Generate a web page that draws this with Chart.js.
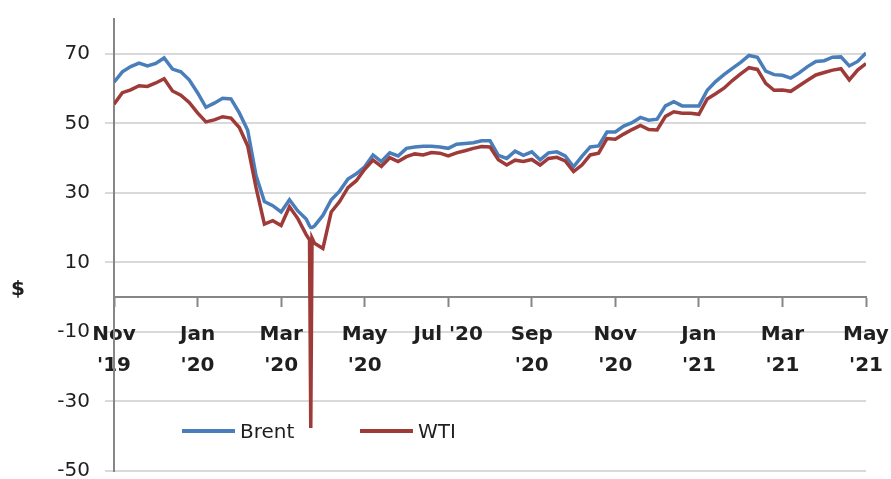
<!DOCTYPE html>
<html>
<head>
<meta charset="utf-8">
<script src="https://cdn.jsdelivr.net/npm/chart.js@4"></script>
<style>
  body { margin: 0; background: #fff; }
</style>
</head>
<body>
<canvas id="myChart" width="891" height="479"></canvas>
<script>
// x is a running index (about a week per step), ticks every 10 steps
const tickIdx = [0, 10, 20, 30, 40, 50, 60, 70, 80, 90];
const tickLabels = ["Nov\n'19", "Jan\n'20", "Mar\n'20", "May\n'20", "Jul '20", "Sep\n'20", "Nov\n'20", "Jan\n'21", "Mar\n'21", "May\n'21"];
const yTicks = [-50, -30, -10, 10, 30, 50, 70];

const steps = Array.from({length: 91}, (_, i) => i);
// extra points around 20 April 2020 (WTI below zero)
steps.splice(24, 0, 23.4, 23.55, 23.7);

const brent = [
  61.8, 64.8, 66.3, 67.3, 66.5, 67.2, 68.8, 65.6, 64.8, 62.5,
  58.8, 54.6, 55.8, 57.2, 57.0, 53.0, 48.0, 35.0, 27.5, 26.3,
  24.5, 28.0, 24.8, 22.5, 20.5, 20.0, 20.0, 20.5, 23.5, 28.0,
  30.5, 34.0, 35.5, 37.5, 40.9, 39.0, 41.5, 40.6, 42.8, 43.2,
  43.4, 43.4, 43.2, 42.8, 44.0, 44.2, 44.4, 45.0, 45.0, 40.8,
  39.9, 42.0, 40.8, 41.8, 39.5, 41.5, 41.8, 40.6, 37.5, 40.5,
  43.2, 43.5, 47.5, 47.5, 49.2, 50.2, 51.7, 50.9, 51.2, 55.0,
  56.2, 55.0, 55.0, 55.0, 59.5, 62.0, 64.0, 65.8, 67.5, 69.5,
  69.0, 65.0, 64.0, 63.8, 63.0, 64.5, 66.3, 67.8, 68.0, 69.0,
  69.1, 66.5, 67.8, 70.2
];
const wti = [
  55.5, 58.8, 59.6, 60.8, 60.6, 61.6, 62.8, 59.3, 58.1, 56.0,
  53.0, 50.4, 51.0, 51.9, 51.5, 48.8, 43.5, 31.5, 21.0, 22.0,
  20.6, 26.0, 22.6, 18.0, 16.5, -37.6, 17.0, 15.5, 14.0, 24.5,
  27.5, 31.5, 33.5, 36.8, 39.4, 37.6, 40.1, 39.0, 40.4, 41.2,
  40.9, 41.6, 41.4, 40.6, 41.5, 42.1, 42.8, 43.3, 43.2, 39.5,
  38.0, 39.4, 39.0, 39.6, 38.0, 39.9, 40.2, 39.2, 36.1, 38.0,
  40.9, 41.4, 45.6, 45.4, 46.9, 48.2, 49.4, 48.2, 48.1, 52.0,
  53.3, 52.9, 52.9, 52.6, 57.0, 58.5, 60.1, 62.3, 64.2, 66.0,
  65.5, 61.5, 59.5, 59.6, 59.2, 60.8, 62.4, 63.9, 64.6, 65.3,
  65.7, 62.5, 65.3, 67.2
];

const blue = '#4a7ebb';
const red = '#9e3b38';
const axisGrey = '#868686';
const gridGrey = '#d9d9d9';
const textCol = '#1f1f1f';

// "$" label and the legend inside the plot
const extras = {
  id: 'extras',
  afterDraw(chart) {
    const ctx = chart.ctx;
    ctx.save();
    ctx.fillStyle = textCol;
    ctx.font = 'bold 20px "DejaVu Sans"';
    ctx.textAlign = 'center';
    ctx.textBaseline = 'middle';
    ctx.fillText('$', 18, 290);

    const items = [
      {text: chart.data.datasets[0].label, color: chart.data.datasets[0].borderColor, x: 182},
      {text: chart.data.datasets[1].label, color: chart.data.datasets[1].borderColor, x: 360}
    ];
    ctx.font = '20px "DejaVu Sans"';
    ctx.textAlign = 'left';
    items.forEach(it => {
      ctx.strokeStyle = it.color;
      ctx.lineWidth = 4;
      ctx.beginPath();
      ctx.moveTo(it.x, 431);
      ctx.lineTo(it.x + 53, 431);
      ctx.stroke();
      ctx.fillStyle = textCol;
      ctx.fillText(it.text, it.x + 58, 433);
    });
    ctx.restore();
  }
};

var ctx = document.getElementById('myChart').getContext('2d');
var myChart = new Chart(ctx, {
  type: 'line',
  data: {
    labels: steps,
    datasets: [{
      label: 'Brent',
      data: brent.map((v, i) => ({x: steps[i], y: v})),
      borderColor: blue,
      borderWidth: 3.5,
      pointRadius: 0,
      tension: 0,
      order: 1
    }, {
      label: 'WTI',
      data: wti.map((v, i) => ({x: steps[i], y: v})),
      borderColor: red,
      borderWidth: 3.5,
      pointRadius: 0,
      tension: 0,
      order: 0
    }]
  },
  options: {
    responsive: false,
    animation: false,
    layout: {padding: {left: 14, right: 25, top: 19, bottom: 8}},
    plugins: {
      legend: {display: false},
      tooltip: {enabled: false}
    },
    scales: {
      x: {
        type: 'linear',
        position: {y: 0},
        min: 0,
        max: 90,
        afterBuildTicks: s => { s.ticks = tickIdx.map(v => ({value: v})); },
        afterFit: s => { s.paddingLeft = 0; s.paddingRight = 0; },
        grid: {drawOnChartArea: false, tickLength: 9, tickColor: axisGrey, tickWidth: 2},
        border: {color: axisGrey, width: 2},
        ticks: {
          maxRotation: 0,
          autoSkip: false,
          padding: 13,
          color: textCol,
          font: {family: '"DejaVu Sans"', size: 20, weight: 'bold', lineHeight: 1.55},
          callback: v => {
            const k = tickIdx.indexOf(v);
            return k < 0 ? '' : tickLabels[k].split('\n');
          }
        }
      },
      y: {
        min: -50,
        max: 80,
        afterBuildTicks: s => { s.ticks = yTicks.map(v => ({value: v})); },
        afterFit: s => { s.width = 100; s.paddingTop = 0; s.paddingBottom = 0; },
        grid: {color: gridGrey, lineWidth: 2, tickLength: 9},
        border: {color: axisGrey, width: 2},
        ticks: {
          padding: 15,
          color: textCol,
          font: {family: '"DejaVu Sans"', size: 20}
        }
      }
    }
  },
  plugins: [extras]
});
</script>
</body>
</html>
